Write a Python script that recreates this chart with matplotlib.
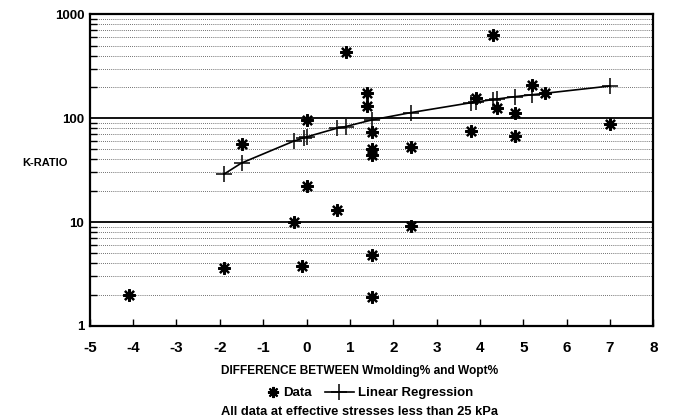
import numpy as np
import matplotlib
matplotlib.use('Agg')
import matplotlib.pyplot as plt
from matplotlib.lines import Line2D

plt.rcParams['font.family'] = ['Liberation Sans', 'DejaVu Sans']
plt.rcParams['font.weight'] = 'bold'

# datos
data_x = [-4.1, -1.9, -1.5, -0.3, 0.0, 0.0, -0.1, 0.7, 0.9, 1.4, 1.4, 1.5, 1.5, 1.5,
          1.5, 1.5, 2.4, 2.4, 3.8, 3.9, 4.3, 4.4, 4.8, 4.8, 5.2, 5.5, 7.0]
data_k = [2.0, 3.6, 56, 10, 96, 22, 3.8, 13, 430, 174, 130, 73, 50, 44,
          4.8, 1.9, 53, 9.2, 75, 155, 630, 125, 112, 67, 208, 174, 88]

# regresion lineal (puntos +)
reg_x = [-1.9, -1.5, -0.3, -0.05, 0.0, 0.7, 0.9, 1.5, 2.4, 3.8, 3.9, 4.3, 4.4, 4.8, 5.2, 7.0]
reg_k = [29, 37, 60, 65, 66, 80, 83, 96, 113, 141, 143, 151, 153, 161, 168, 204]

x_ticks = list(range(-5, 9))
y_ticks = [1, 10, 100, 1000]
y_labels = ['1', '10', '100', '1000']

fig = plt.figure(figsize=(6.75, 4.2), dpi=100)
ax = fig.add_axes([0.133, 0.224, 0.835, 0.742])

ax.set_yscale('log')
ax.set_xlim(-5, 8)
ax.set_ylim(1, 1000)

# lineas de la grilla
for dec in [1, 10, 100]:
    for m in range(2, 10):
        ax.axhline(dec * m, color='0.25', lw=0.6, ls=(0, (1, 1.5)), zorder=1)
for v in [10, 100]:
    ax.axhline(v, color='black', lw=1.3, zorder=2)

ax.plot(reg_x, reg_k, color='black', lw=1.2, marker='+', ms=11, mew=1.1, zorder=3)
ax.plot(data_x, data_k, ls='none', marker=(8, 2, 0), ms=9, mew=1.6, color='black', zorder=4)

ax.set_xticks(x_ticks)
ax.set_xticklabels([str(t) for t in x_ticks], fontsize=11, fontweight='bold')
ax.set_yticks(y_ticks)
ax.set_yticklabels(y_labels, fontsize=9.5, fontweight='bold')
ax.tick_params(axis='x', direction='in', length=5, width=1, pad=11)
ax.tick_params(axis='y', which='major', direction='in', length=0, pad=4)
ax.tick_params(axis='y', which='minor', direction='in', length=5, width=1)
ax.yaxis.set_minor_formatter(matplotlib.ticker.NullFormatter())

for s in ax.spines.values():
    s.set_linewidth(1.6)

fig.text(0.067, 0.612, 'K-RATIO', fontsize=8, fontweight='bold', ha='center', va='center')
fig.text(0.533, 0.117, 'DIFFERENCE BETWEEN Wmolding% and Wopt%', fontsize=8.6,
         fontweight='bold', ha='center', va='center')

h_data = Line2D([], [], ls='none', marker=(8, 2, 0), ms=8, mew=1.5, color='black')
h_reg = Line2D([], [], color='black', lw=1.2, marker='+', ms=11, mew=1.1)
leg1 = fig.legend([h_data], ['Data'], loc='center left', bbox_to_anchor=(0.385, 0.064),
                  frameon=False, handlelength=1.0, handletextpad=0.3, borderpad=0,
                  prop={'weight': 'bold', 'size': 9.5})
leg2 = fig.legend([h_reg], ['Linear Regression'], loc='center left', bbox_to_anchor=(0.471, 0.064),
                  frameon=False, handlelength=2.2, handletextpad=0.3, borderpad=0,
                  prop={'weight': 'bold', 'size': 9.5})
fig.text(0.533, 0.02, 'All data at effective stresses less than 25 kPa', fontsize=9.3,
         fontweight='bold', ha='center', va='center')

fig.savefig('out.png', dpi=100)
